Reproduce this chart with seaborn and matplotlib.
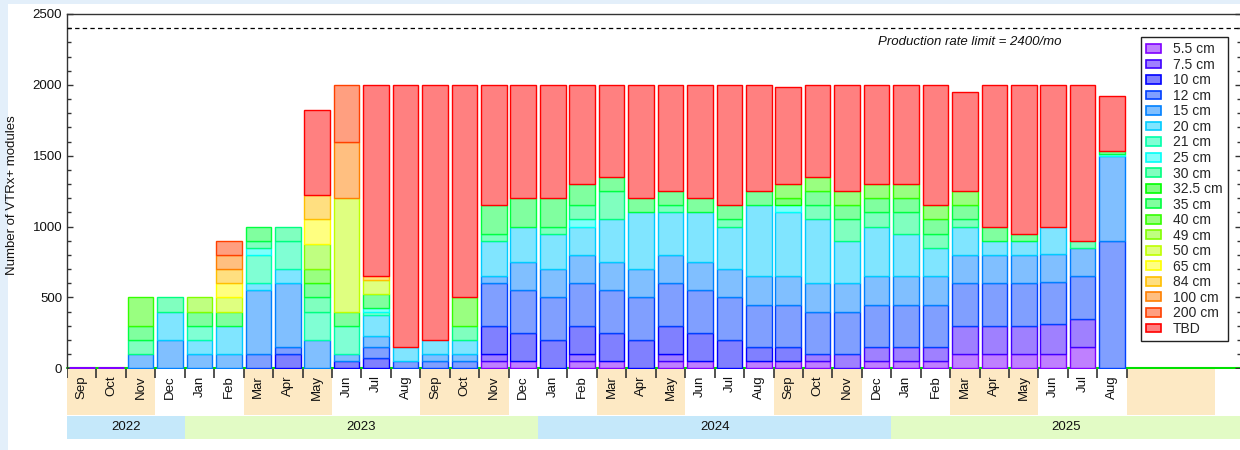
import colorsys

import matplotlib
matplotlib.use("Agg")
import matplotlib.pyplot as plt
import numpy as np
import seaborn as sns
from matplotlib.patches import Patch, Rectangle
from matplotlib.ticker import MultipleLocator

sns.set_style("white")
plt.rcParams["font.family"] = ["Liberation Sans", "DejaVu Sans"]

# months shown with bars (Sep 2022 .. Aug 2025)
months = ["Sep", "Oct", "Nov", "Dec",
          "Jan", "Feb", "Mar", "Apr", "May", "Jun", "Jul", "Aug", "Sep", "Oct", "Nov", "Dec",
          "Jan", "Feb", "Mar", "Apr", "May", "Jun", "Jul", "Aug", "Sep", "Oct", "Nov", "Dec",
          "Jan", "Feb", "Mar", "Apr", "May", "Jun", "Jul", "Aug"]
years = ["2022", "2023", "2024", "2025"]
year_months = [4, 12, 12, 12]

sizes = ["5.5 cm", "7.5 cm", "10 cm", "12 cm", "15 cm", "20 cm", "21 cm", "25 cm",
         "30 cm", "32.5 cm", "35 cm", "40 cm", "49 cm", "50 cm", "65 cm", "84 cm",
         "100 cm", "200 cm", "TBD"]

cm5_5 = [0, 0, 0, 0, 0, 0, 0, 0, 0, 0, 0, 0, 0, 0, 50, 50, 0, 50,
         50, 0, 50, 50, 0, 50, 50, 50, 0, 50, 50, 50, 100, 100, 100, 100, 150, 0]
cm7_5 = [0, 0, 0, 0, 0, 0, 0, 0, 0, 0, 0, 0, 0, 0, 50, 0, 0, 50,
         0, 0, 50, 0, 0, 0, 0, 50, 100, 100, 100, 100, 200, 200, 200, 210, 200, 0]
cm10 = [0, 0, 0, 0, 0, 0, 0, 100, 0, 50, 75, 0, 0, 0, 200, 200, 200, 200,
        200, 200, 200, 200, 200, 100, 100, 0, 0, 0, 0, 0, 0, 0, 0, 0, 0, 0]
cm12 = [0, 0, 0, 0, 0, 0, 100, 50, 0, 0, 75, 50, 50, 50, 300, 300, 300, 300,
        300, 300, 300, 300, 300, 300, 300, 300, 300, 300, 300, 300, 300, 300, 300, 300, 300, 900]
cm15 = [0, 0, 100, 200, 100, 100, 450, 450, 200, 50, 75, 0, 50, 50, 50, 200, 200, 200,
        200, 200, 200, 200, 200, 200, 200, 200, 200, 200, 200, 200, 200, 200, 200, 200, 200, 600]
cm20 = [0, 0, 0, 200, 100, 200, 50, 100, 0, 0, 150, 100, 100, 100, 250, 250, 250, 200,
        300, 400, 300, 350, 300, 500, 450, 450, 300, 350, 300, 200, 200, 100, 100, 190, 0, 0]
cm21 = [0, 0, 0, 0, 100, 0, 200, 200, 200, 200, 25, 0, 0, 0, 0, 0, 0, 0,
        0, 0, 0, 0, 0, 0, 0, 0, 0, 0, 0, 0, 0, 0, 0, 0, 0, 0]
cm25 = [0, 0, 0, 0, 0, 0, 50, 0, 0, 0, 25, 0, 0, 0, 0, 0, 0, 50,
        0, 0, 0, 0, 0, 0, 50, 0, 0, 0, 0, 0, 0, 0, 0, 0, 0, 10]
cm30 = [0, 0, 100, 100, 0, 0, 50, 100, 100, 0, 0, 0, 0, 100, 50, 0, 50, 100,
        200, 0, 50, 0, 50, 0, 0, 100, 150, 100, 150, 100, 50, 0, 0, 0, 50, 0]
cm32_5 = [0, 0, 0, 0, 0, 0, 0, 0, 0, 0, 0, 0, 0, 0, 0, 0, 0, 0,
          0, 0, 0, 0, 0, 0, 50, 0, 0, 0, 0, 0, 0, 0, 0, 0, 0, 0]
cm35 = [0, 0, 100, 0, 100, 100, 100, 0, 100, 100, 100, 0, 0, 0, 200, 200, 200, 150,
        100, 100, 100, 100, 100, 100, 0, 100, 100, 100, 100, 100, 100, 100, 50, 0, 0, 20]
cm40 = [0, 0, 200, 0, 0, 0, 0, 0, 100, 0, 0, 0, 0, 200, 0, 0, 0, 0,
        0, 0, 0, 0, 0, 0, 100, 100, 100, 100, 100, 100, 100, 0, 0, 0, 0, 0]
cm49 = [0, 0, 0, 0, 100, 0, 0, 0, 175, 0, 0, 0, 0, 0, 0, 0, 0, 0,
        0, 0, 0, 0, 0, 0, 0, 0, 0, 0, 0, 0, 0, 0, 0, 0, 0, 0]
cm50 = [0, 0, 0, 0, 0, 100, 0, 0, 0, 800, 100, 0, 0, 0, 0, 0, 0, 0,
        0, 0, 0, 0, 0, 0, 0, 0, 0, 0, 0, 0, 0, 0, 0, 0, 0, 0]
cm65 = [0, 0, 0, 0, 0, 100, 0, 0, 175, 0, 0, 0, 0, 0, 0, 0, 0, 0,
        0, 0, 0, 0, 0, 0, 0, 0, 0, 0, 0, 0, 0, 0, 0, 0, 0, 0]
cm84 = [0, 0, 0, 0, 0, 100, 0, 0, 175, 0, 25, 0, 0, 0, 0, 0, 0, 0,
        0, 0, 0, 0, 0, 0, 0, 0, 0, 0, 0, 0, 0, 0, 0, 0, 0, 0]
cm100 = [0, 0, 0, 0, 0, 100, 0, 0, 0, 400, 0, 0, 0, 0, 0, 0, 0, 0,
         0, 0, 0, 0, 0, 0, 0, 0, 0, 0, 0, 0, 0, 0, 0, 0, 0, 0]
cm200 = [0, 0, 0, 0, 0, 100, 0, 0, 0, 400, 0, 0, 0, 0, 0, 0, 0, 0,
         0, 0, 0, 0, 0, 0, 0, 0, 0, 0, 0, 0, 0, 0, 0, 0, 0, 0]
tbd = [0, 0, 0, 0, 0, 0, 0, 0, 595, 0, 1350, 1850, 1800, 1500, 850, 800, 800, 700,
       650, 800, 750, 800, 850, 750, 685, 650, 750, 700, 700, 850, 700, 1000, 1050, 1000, 1100, 390]

layers = [cm5_5, cm7_5, cm10, cm12, cm15, cm20, cm21, cm25, cm30, cm32_5, cm35,
          cm40, cm49, cm50, cm65, cm84, cm100, cm200, tbd]

rate_limit = 2400

# hue (degrees) of each size class, purple -> red
hues = [270, 255, 240, 225, 210, 192, 160, 178, 150, 120, 135, 108, 90, 75, 60, 45, 30, 15, 0]

fig = plt.figure(figsize=(12.4, 4.5), dpi=100)
fig.patch.set_facecolor("#e3effa")
fig.add_artist(Rectangle((8 / 1240, 0), 1, 1 - 4 / 450, transform=fig.transFigure,
                         facecolor="white", edgecolor="none", zorder=-5))

x_left = 67 / 1240
x_width = 1174 / 1240
ax = fig.add_axes([x_left, (450 - 368.3) / 450, x_width, 354.3 / 450])

x = np.arange(len(months))
totals = np.sum(np.array(layers, dtype=float), axis=0)
bottom = np.zeros(len(months))
handles = []
for size, vals, h in zip(sizes, layers, hues):
    vals = np.array(vals, dtype=float)
    edge = colorsys.hsv_to_rgb(h / 360, 1, 1)
    fill = tuple(0.5 + 0.5 * c for c in edge)
    # hide zero-height segments, except the empty months' baseline (purple in the original)
    lws = [1.0 if v > 0 else (2.2 if (size == "5.5 cm" and t == 0) else 0.0)
           for v, t in zip(vals, totals)]
    sns.barplot(x=x, y=vals, bottom=bottom.copy(), native_scale=True, width=0.87,
                color=fill, edgecolor=edge, linewidth=lws, saturation=1,
                errorbar=None, ax=ax, zorder=2, clip_on=False)
    bottom += vals
    handles.append(Patch(facecolor=fill, edgecolor=edge, linewidth=1.2, label=size))

ax.axhline(0, color="#00e000", lw=1.5, zorder=0.5, clip_on=False)
ax.axhline(rate_limit, color="black", lw=0.9, ls=(0, (3.5, 2.6)), zorder=3)
ax.text(0.8475, 0.921, "Production rate limit = 2400/mo", transform=ax.transAxes,
        ha="right", va="center", style="italic", fontsize=9.5, color="#111")

ax.set_xlim(-0.5, 39.38)
ax.set_ylim(0, 2500)
ax.set_xlabel("")
ax.set_ylabel("Number of VTRx+ modules", fontsize=9.5, color="#111")
ax.yaxis.set_label_coords(-0.042, 0.49)
ax.yaxis.set_major_locator(MultipleLocator(500))
ax.yaxis.set_minor_locator(MultipleLocator(100))
ax.tick_params(axis="y", which="major", direction="in", length=4, width=1,
               left=True, right=True, labelsize=9.5, colors="#333", labelcolor="#111")
ax.tick_params(axis="y", which="minor", direction="in", length=3, width=1,
               left=True, right=True, colors="#333")
ax.tick_params(axis="x", bottom=False, labelbottom=False)
for side in ["left", "top", "right"]:
    ax.spines[side].set_color("#333")
    ax.spines[side].set_linewidth(1)
ax.spines["bottom"].set_visible(False)

leg = ax.legend(handles=handles, loc="upper right", bbox_to_anchor=(0.989, 0.935),
                borderaxespad=0, fontsize=10, frameon=True, fancybox=False,
                framealpha=1, edgecolor="#222", labelspacing=0.11,
                handlelength=1.08, handleheight=0.6, handletextpad=0.86, borderpad=0.38)
leg.get_frame().set_linewidth(1.0)

# month / year bands under the axis
axb = fig.add_axes([x_left, 10 / 450, x_width, 71 / 450])
axb.set_xlim(ax.get_xlim())
axb.set_ylim(71, 0)
axb.axis("off")

n_all = sum(year_months)
month_num = [(8 + i) % 12 + 1 for i in range(n_all)]
band_cols = ["#fde9c4" if m in (3, 4, 5, 9, 10, 11) else "white" for m in month_num]
axb.bar(np.arange(n_all), 46, bottom=0, width=1.0, color=band_cols, linewidth=0)
axb.vlines(np.arange(-0.5, len(months)), 0, 9, color="#333", lw=1.2)
for i, m in enumerate(months):
    axb.text(i, 6.5, m, rotation=90, ha="center", va="top", fontsize=9.5, color="#111")

start = 0
xmax = ax.get_xlim()[1]
for k, (yr, n) in enumerate(zip(years, year_months)):
    col = "#c5e8fa" if k % 2 == 0 else "#e2fbc5"
    axb.bar(start - 0.5 + n / 2, 23, bottom=47, width=n, color=col, linewidth=0)
    lo, hi = start - 0.5, min(start - 0.5 + n, xmax)
    axb.text((lo + hi) / 2, 58.5, yr, ha="center", va="center", fontsize=9.5, color="#111")
    start += n

fig.savefig("out.png", dpi=100, facecolor=fig.get_facecolor())
